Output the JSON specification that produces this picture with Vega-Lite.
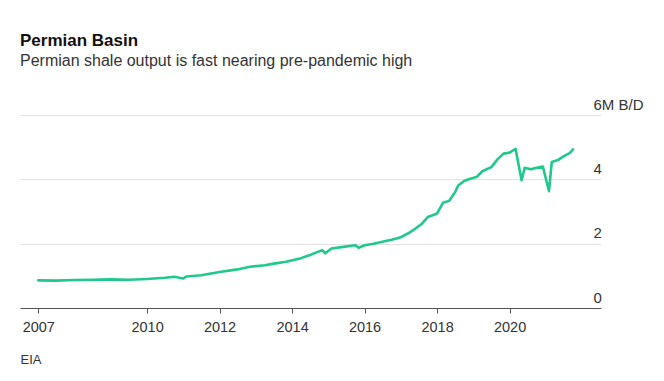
{
  "$schema": "https://vega.github.io/schema/vega-lite/v6.json",
  "autosize": {"type": "none"},
  "width": 581,
  "height": 193,
  "padding": {"left": 20, "top": 115, "right": 63, "bottom": 73},
  "background": "white",
  "title": {
    "text": "Permian Basin",
    "subtitle": "Permian shale output is fast nearing pre-pandemic high",
    "anchor": "start",
    "frame": "group",
    "offset": 27,
    "font": "Liberation Sans",
    "fontSize": 17,
    "fontWeight": "bold",
    "color": "#111111",
    "subtitleFont": "Liberation Sans",
    "subtitleFontSize": 16,
    "subtitleColor": "#333333",
    "subtitlePadding": 3
  },
  "config": {
    "view": {"stroke": null},
    "font": "Liberation Sans"
  },
  "data": {
    "values": [
      {"date": "2007-01-01", "output": 0.86},
      {"date": "2007-07-01", "output": 0.85},
      {"date": "2008-01-01", "output": 0.87},
      {"date": "2008-07-01", "output": 0.88},
      {"date": "2009-01-01", "output": 0.89},
      {"date": "2009-07-01", "output": 0.88},
      {"date": "2010-01-01", "output": 0.9},
      {"date": "2010-07-01", "output": 0.94},
      {"date": "2010-10-01", "output": 0.97},
      {"date": "2011-01-01", "output": 0.92},
      {"date": "2011-02-01", "output": 0.98},
      {"date": "2011-07-01", "output": 1.02},
      {"date": "2012-01-01", "output": 1.12},
      {"date": "2012-07-01", "output": 1.2},
      {"date": "2012-11-01", "output": 1.28},
      {"date": "2013-04-01", "output": 1.33},
      {"date": "2013-07-01", "output": 1.38},
      {"date": "2013-11-01", "output": 1.44},
      {"date": "2014-04-01", "output": 1.55},
      {"date": "2014-07-01", "output": 1.65},
      {"date": "2014-11-01", "output": 1.8},
      {"date": "2014-12-01", "output": 1.7},
      {"date": "2015-02-01", "output": 1.85},
      {"date": "2015-06-01", "output": 1.9},
      {"date": "2015-10-01", "output": 1.95},
      {"date": "2015-11-01", "output": 1.87},
      {"date": "2016-01-01", "output": 1.95},
      {"date": "2016-04-01", "output": 2.0},
      {"date": "2016-08-01", "output": 2.08},
      {"date": "2016-10-01", "output": 2.12},
      {"date": "2017-01-01", "output": 2.2},
      {"date": "2017-04-01", "output": 2.35},
      {"date": "2017-06-01", "output": 2.48},
      {"date": "2017-08-01", "output": 2.62},
      {"date": "2017-10-01", "output": 2.83},
      {"date": "2018-01-01", "output": 2.94},
      {"date": "2018-03-01", "output": 3.27},
      {"date": "2018-05-01", "output": 3.33},
      {"date": "2018-07-01", "output": 3.6},
      {"date": "2018-08-01", "output": 3.81},
      {"date": "2018-10-01", "output": 3.95},
      {"date": "2018-12-01", "output": 4.02},
      {"date": "2019-02-01", "output": 4.07},
      {"date": "2019-04-01", "output": 4.25},
      {"date": "2019-07-01", "output": 4.38},
      {"date": "2019-09-01", "output": 4.62},
      {"date": "2019-11-01", "output": 4.8},
      {"date": "2020-01-01", "output": 4.83},
      {"date": "2020-03-01", "output": 4.95},
      {"date": "2020-05-01", "output": 3.97},
      {"date": "2020-06-01", "output": 4.36},
      {"date": "2020-08-01", "output": 4.31},
      {"date": "2020-10-01", "output": 4.36},
      {"date": "2020-12-01", "output": 4.4},
      {"date": "2021-02-01", "output": 3.63},
      {"date": "2021-03-01", "output": 4.54},
      {"date": "2021-05-01", "output": 4.6},
      {"date": "2021-07-01", "output": 4.72},
      {"date": "2021-09-01", "output": 4.82},
      {"date": "2021-10-01", "output": 4.93}
    ]
  },
  "mark": {"type": "line", "color": "#1ec98b", "strokeWidth": 2.6, "strokeJoin": "round", "strokeCap": "round"},
  "encoding": {
    "x": {
      "field": "date",
      "type": "temporal",
      "scale": {
        "type": "utc",
        "domain": [
          {"year": 2006, "month": 7, "date": 1, "utc": true},
          {"year": 2022, "month": 7, "date": 10, "utc": true}
        ]
      },
      "axis": {
        "values": [
          {"year": 2007, "month": 1, "date": 1, "utc": true},
          {"year": 2010, "month": 1, "date": 1, "utc": true},
          {"year": 2012, "month": 1, "date": 1, "utc": true},
          {"year": 2014, "month": 1, "date": 1, "utc": true},
          {"year": 2016, "month": 1, "date": 1, "utc": true},
          {"year": 2018, "month": 1, "date": 1, "utc": true},
          {"year": 2020, "month": 1, "date": 1, "utc": true}
        ],
        "format": "%Y",
        "formatType": "utc",
        "grid": false,
        "domainColor": "#555555",
        "domainWidth": 1,
        "tickColor": "#555555",
        "tickSize": 5,
        "labelFont": "Liberation Sans",
        "labelFontSize": 14.5,
        "labelColor": "#333333",
        "labelPadding": 7,
        "labelFlush": false,
        "title": "EIA",
        "titleFont": "Liberation Sans",
        "titleFontSize": 13,
        "titleFontWeight": "normal",
        "titleColor": "#333333",
        "titleAnchor": "start",
        "titleAlign": "left",
        "titleBaseline": "alphabetic",
        "titleX": 0,
        "titleY": 55
      }
    },
    "y": {
      "field": "output",
      "type": "quantitative",
      "scale": {"domain": [0, 6], "nice": false},
      "axis": {
        "orient": "right",
        "values": [0, 2, 4, 6],
        "labelExpr": "datum.value == 6 ? '6M B/D' : datum.label",
        "domain": false,
        "ticks": false,
        "grid": true,
        "gridColor": "#e2e2e2",
        "gridWidth": 1,
        "labelAlign": "left",
        "labelBaseline": "alphabetic",
        "labelPadding": -8,
        "labelOffset": -6,
        "labelFont": "Liberation Sans",
        "labelFontSize": 15,
        "labelColor": "#333333",
        "title": null
      }
    }
  }
}
